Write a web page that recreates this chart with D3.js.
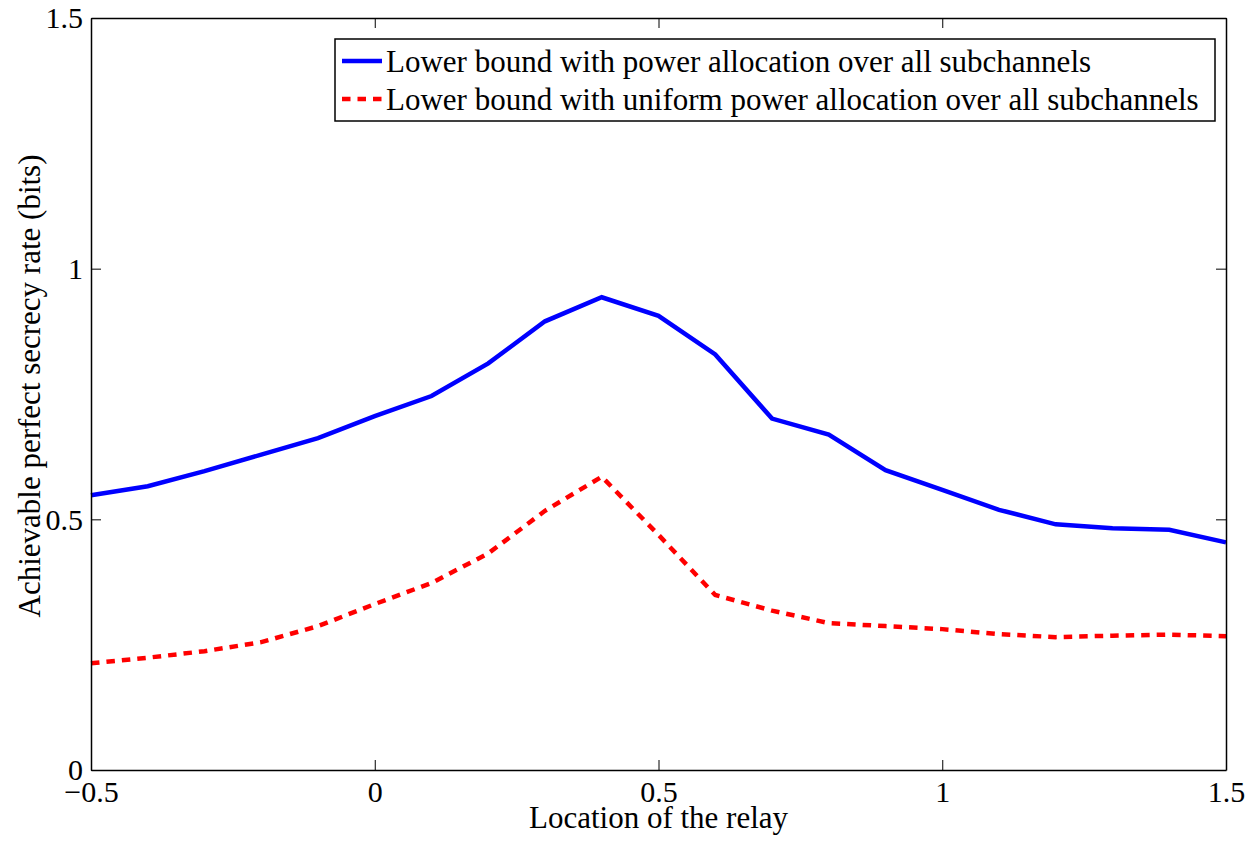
<!DOCTYPE html>
<html>
<head>
<meta charset="utf-8">
<script src="https://cdn.jsdelivr.net/npm/d3@7/dist/d3.min.js"></script>
<style>
  html, body { margin: 0; padding: 0; background: #fff; }
  svg { display: block; }
  svg text { font-family: "Liberation Serif", "Times New Roman", Times, "DejaVu Serif", serif; fill: #000; }
</style>
</head>
<body>
<svg id="chart" width="1256" height="841"></svg>
<script>
const relayLocation = [-0.5, -0.4, -0.3, -0.2, -0.1, 0, 0.1, 0.2, 0.3, 0.4, 0.5, 0.6, 0.7, 0.8, 0.9, 1.0, 1.1, 1.2, 1.3, 1.4, 1.5];
const powerAllocation = [0.548, 0.566, 0.596, 0.629, 0.662, 0.706, 0.746, 0.811, 0.895, 0.943, 0.906, 0.829, 0.701, 0.669, 0.598, 0.559, 0.519, 0.490, 0.482, 0.479, 0.454];
const uniformAllocation = [0.213, 0.224, 0.237, 0.255, 0.287, 0.331, 0.373, 0.432, 0.517, 0.585, 0.469, 0.349, 0.318, 0.293, 0.287, 0.281, 0.271, 0.265, 0.268, 0.270, 0.267];
const xTicks = [-0.5, 0, 0.5, 1, 1.5];
const yTicks = [0, 0.5, 1, 1.5];
const seriesNames = [
  "Lower bound with power allocation over all subchannels",
  "Lower bound with uniform power allocation over all subchannels"
];
const xLabel = "Location of the relay";
const yLabel = "Achievable perfect secrecy rate (bits)";

(function () {
const svg = d3.select("#chart");
const mLeft = 91, mRight = 1226, mTop = 18, mBottom = 770;
const x = d3.scaleLinear().domain([-0.5, 1.5]).range([mLeft, mRight]);
const y = d3.scaleLinear().domain([0, 1.5]).range([mBottom, mTop]);
const fs = 31;
const tickFs = 30;
const tickLen = 10;
const dash = "8.5,7";
const fmt = d => d < 0 ? "\u2212" + Math.abs(d) : String(d);

// lines
const line = d3.line().x((d, i) => x(relayLocation[i])).y(d => y(d));
const plot = svg.append("g");
plot.append("path").datum(powerAllocation)
  .attr("d", line).attr("fill", "none").attr("stroke", "#0000ff")
  .attr("stroke-width", 4.5).attr("stroke-linejoin", "miter");
plot.append("path").datum(uniformAllocation)
  .attr("d", line).attr("fill", "none").attr("stroke", "#ff0000")
  .attr("stroke-width", 4.5).attr("stroke-dasharray", dash);

// axes
const axB = d3.axisBottom(x).tickValues(xTicks).tickSizeInner(-tickLen).tickSizeOuter(0).tickFormat(fmt);
const axT = d3.axisTop(x).tickValues(xTicks).tickSizeInner(-tickLen).tickSizeOuter(0).tickFormat("");
const axL = d3.axisLeft(y).tickValues(yTicks).tickSizeInner(-tickLen).tickSizeOuter(0).tickFormat(d => String(d));
const axR = d3.axisRight(y).tickValues(yTicks).tickSizeInner(-tickLen).tickSizeOuter(0).tickFormat("");

function style(g) {
  g.attr("font-family", null).attr("font-size", null);
  g.selectAll("path.domain").attr("stroke", "#000").attr("stroke-width", 1.5);
  g.selectAll(".tick line").attr("stroke", "#000").attr("stroke-width", 1);
  g.selectAll(".tick text").attr("font-size", tickFs).attr("fill", "#000");
}
const gB = svg.append("g").attr("transform", `translate(0,${mBottom})`).call(axB).call(style);
gB.selectAll(".tick text").attr("y", 32).attr("dy", null);
svg.append("g").attr("transform", `translate(0,${mTop})`).call(axT).call(style);
const gL = svg.append("g").attr("transform", `translate(${mLeft},0)`).call(axL).call(style);
gL.selectAll(".tick text").attr("x", -8).attr("dy", "0.33em");
svg.append("g").attr("transform", `translate(${mRight},0)`).call(axR).call(style);

// axis labels
svg.append("text").attr("x", (mLeft + mRight) / 2).attr("y", 828)
  .attr("text-anchor", "middle").attr("font-size", fs).text(xLabel);
svg.append("text").attr("transform", `translate(40,386) rotate(-90)`)
  .attr("text-anchor", "middle").attr("font-size", fs).text(yLabel);

// legend
const lg = svg.append("g");
lg.append("rect").attr("x", 335).attr("y", 39).attr("width", 880).attr("height", 82)
  .attr("fill", "#fff").attr("stroke", "#000").attr("stroke-width", 1.5);
const colors = ["#0000ff", "#ff0000"];
const dashes = [null, dash];
seriesNames.forEach((name, i) => {
  const yy = 61 + i * 38;
  lg.append("line").attr("x1", 342).attr("x2", 382).attr("y1", yy).attr("y2", yy)
    .attr("stroke", colors[i]).attr("stroke-width", 4.5).attr("stroke-dasharray", dashes[i]);
  lg.append("text").attr("x", 386).attr("y", yy + 11).attr("font-size", fs).text(name);
});
})();
</script>
</body>
</html>
